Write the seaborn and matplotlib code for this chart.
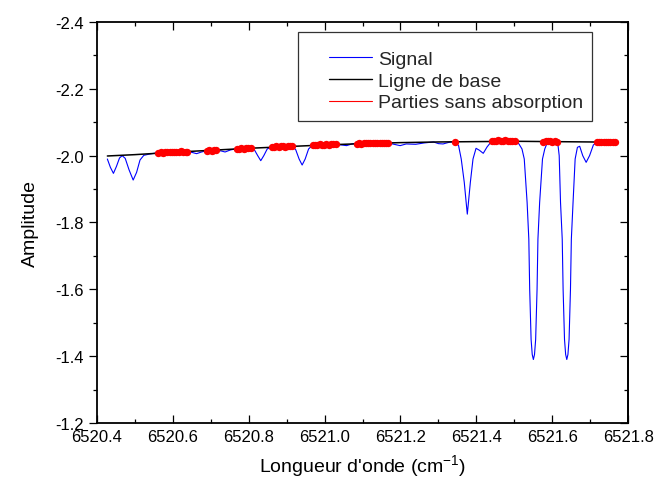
import matplotlib
matplotlib.use("Agg")
import matplotlib.pyplot as plt
import seaborn as sns
from matplotlib.ticker import MultipleLocator, FormatStrFormatter
from matplotlib.lines import Line2D
from matplotlib.patches import Rectangle

# ---------------- data ----------------
signal_x = [6520.428, 6520.436, 6520.444, 6520.452, 6520.460, 6520.467, 6520.475, 6520.485,
            6520.496, 6520.505, 6520.514, 6520.524, 6520.540, 6520.562, 6520.600, 6520.637,
            6520.650, 6520.663, 6520.676, 6520.691, 6520.714, 6520.728, 6520.738, 6520.752,
            6520.769, 6520.806, 6520.816, 6520.824, 6520.832, 6520.840, 6520.849, 6520.861,
            6520.914, 6520.924, 6520.933, 6520.941, 6520.949, 6520.958, 6520.969, 6521.030,
            6521.045, 6521.058, 6521.072, 6521.085, 6521.167, 6521.183, 6521.199, 6521.215,
            6521.240, 6521.262, 6521.287, 6521.300, 6521.312, 6521.328, 6521.344, 6521.353,
            6521.360, 6521.368, 6521.373, 6521.376, 6521.379, 6521.384, 6521.391, 6521.399,
            6521.408, 6521.418, 6521.428, 6521.440, 6521.502, 6521.512, 6521.520, 6521.526,
            6521.5335, 6521.538, 6521.5403, 6521.544, 6521.547, 6521.550, 6521.553, 6521.556,
            6521.5597, 6521.562, 6521.5665, 6521.574, 6521.580, 6521.587, 6521.611, 6521.615,
            6521.618, 6521.6215, 6521.626, 6521.6283, 6521.632, 6521.635, 6521.638, 6521.641,
            6521.644, 6521.6477, 6521.650, 6521.6545, 6521.660, 6521.666, 6521.672, 6521.680,
            6521.689, 6521.698, 6521.708, 6521.717, 6521.765]
signal_y = [-1.990, -1.965, -1.947, -1.968, -1.993, -2.000, -1.992, -1.958,
            -1.927, -1.950, -1.987, -2.001, -2.005, -2.009, -2.011, -2.012,
            -2.010, -2.006, -2.011, -2.015, -2.016, -2.014, -2.011, -2.017,
            -2.021, -2.022, -2.016, -2.000, -1.985, -2.000, -2.020, -2.027,
            -2.029, -2.018, -1.990, -1.972, -1.990, -2.020, -2.032, -2.034,
            -2.032, -2.030, -2.035, -2.037, -2.038, -2.034, -2.030, -2.035,
            -2.034, -2.038, -2.041, -2.036, -2.035, -2.040, -2.042, -2.030,
            -1.990, -1.920, -1.860, -1.825, -1.860, -1.920, -1.990, -2.022,
            -2.016, -2.007, -2.026, -2.043, -2.044, -2.035, -2.020, -1.990,
            -1.860, -1.750, -1.600, -1.450, -1.405, -1.390, -1.405, -1.450,
            -1.600, -1.750, -1.860, -1.990, -2.020, -2.040, -2.043, -2.030,
            -2.000, -1.860, -1.750, -1.600, -1.450, -1.405, -1.390, -1.405,
            -1.450, -1.600, -1.750, -1.860, -1.990, -2.025, -2.028, -2.000,
            -1.980, -2.000, -2.032, -2.040, -2.041]

baseline_x = [6520.428, 6520.50, 6520.60, 6520.70, 6520.80, 6520.90, 6521.00, 6521.10,
              6521.20, 6521.30, 6521.40, 6521.50, 6521.60, 6521.70, 6521.765]
baseline_y = [-1.999, -2.003, -2.010, -2.016, -2.022, -2.027, -2.032, -2.036,
              -2.039, -2.041, -2.042, -2.043, -2.042, -2.041, -2.040]

red_x = [6520.562, 6520.568, 6520.574, 6520.580, 6520.586, 6520.592, 6520.598, 6520.604,
         6520.610, 6520.616, 6520.622, 6520.628, 6520.634, 6520.637,
         6520.691, 6520.697, 6520.703, 6520.709, 6520.714,
         6520.769, 6520.775, 6520.781, 6520.787, 6520.793, 6520.799, 6520.806,
         6520.861, 6520.867, 6520.873, 6520.879, 6520.885, 6520.891, 6520.897, 6520.903,
         6520.909, 6520.914,
         6520.969, 6520.975, 6520.981, 6520.987, 6520.993, 6520.999, 6521.005, 6521.011,
         6521.017, 6521.023, 6521.030,
         6521.085, 6521.091, 6521.097, 6521.103, 6521.109, 6521.115, 6521.121, 6521.127,
         6521.133, 6521.139, 6521.145, 6521.151, 6521.157, 6521.163, 6521.167,
         6521.344,
         6521.440, 6521.446, 6521.452, 6521.458, 6521.464, 6521.470, 6521.476, 6521.482,
         6521.488, 6521.494, 6521.502,
         6521.576, 6521.582, 6521.588, 6521.594, 6521.600, 6521.606, 6521.611,
         6521.717, 6521.723, 6521.729, 6521.735, 6521.741, 6521.747, 6521.753, 6521.759,
         6521.765]
red_y = [-2.008, -2.010, -2.009, -2.011, -2.010, -2.012, -2.011, -2.010,
         -2.012, -2.011, -2.013, -2.012, -2.011, -2.012,
         -2.015, -2.016, -2.015, -2.017, -2.016,
         -2.020, -2.021, -2.022, -2.021, -2.023, -2.022, -2.023,
         -2.026, -2.027, -2.028, -2.027, -2.029, -2.028, -2.027, -2.029,
         -2.028, -2.029,
         -2.032, -2.033, -2.032, -2.034, -2.033, -2.032, -2.034, -2.033,
         -2.035, -2.034, -2.034,
         -2.036, -2.037, -2.036, -2.038, -2.037, -2.038, -2.037, -2.039,
         -2.038, -2.037, -2.039, -2.038, -2.039, -2.038, -2.038,
         -2.042,
         -2.044, -2.045, -2.044, -2.046, -2.045, -2.044, -2.046, -2.045,
         -2.044, -2.045, -2.044,
         -2.042, -2.043, -2.044, -2.043, -2.042, -2.043, -2.042,
         -2.040, -2.041, -2.040, -2.042, -2.041, -2.040, -2.041, -2.040,
         -2.041]

legend_labels = ["Signal", "Ligne de base", "Parties sans absorption"]
x_ticks_lim = (6520.4, 6521.8)
y_ticks_lim = (-1.2, -2.4)

# ---------------- plot ----------------
sns.set_theme(style="white")
plt.rcParams["font.family"] = ["Liberation Sans", "DejaVu Sans"]
plt.rcParams["mathtext.default"] = "regular"
plt.rcParams["axes.unicode_minus"] = False

fig = plt.figure(figsize=(6.54, 4.85), dpi=100)
ax = fig.add_axes([0.1479, 0.1258, 0.8128, 0.8268])

sns.lineplot(x=signal_x, y=signal_y, sort=False, estimator=None, color="#0000FF",
             lw=0.8, ax=ax)
sns.lineplot(x=baseline_x, y=baseline_y, sort=False, estimator=None, color="black",
             lw=1.1, ax=ax)
sns.scatterplot(x=red_x, y=red_y, color="#FF0000", s=28, linewidth=0, ax=ax, zorder=3)

ax.set_xlim(*x_ticks_lim)
ax.set_ylim(*y_ticks_lim)
ax.xaxis.set_major_locator(MultipleLocator(0.2))
ax.xaxis.set_minor_locator(MultipleLocator(0.1))
ax.xaxis.set_major_formatter(FormatStrFormatter("%.1f"))
ax.yaxis.set_major_locator(MultipleLocator(0.2))
ax.yaxis.set_minor_locator(MultipleLocator(0.1))
ax.yaxis.set_major_formatter(FormatStrFormatter("%.1f"))

for s in ax.spines.values():
    s.set_visible(True)
    s.set_color("black")
    s.set_linewidth(1.3)

ax.tick_params(axis="x", which="both", direction="in", top=True, bottom=True,
               colors="black", labelsize=12, pad=4.5)
ax.tick_params(axis="x", which="major", length=5.5, width=0.9)
ax.tick_params(axis="x", which="minor", length=3, width=0.9)
ax.tick_params(axis="y", which="both", direction="out", left=True, right=False,
               colors="black", labelsize=12, pad=3.5)
ax.tick_params(axis="y", which="major", length=5.5, width=0.9)
ax.tick_params(axis="y", which="minor", length=3, width=0.9)

sec = ax.secondary_yaxis("right")
sec.yaxis.set_major_locator(MultipleLocator(0.2))
sec.yaxis.set_minor_locator(MultipleLocator(0.1))
sec.tick_params(which="both", direction="in", labelright=False, colors="black")
sec.tick_params(which="major", length=5.5, width=0.9)
sec.tick_params(which="minor", length=3, width=0.9)
sec.spines["right"].set_color("black")
sec.spines["right"].set_linewidth(1.3)

ax.set_xlabel("Longueur d'onde (cm$^{-1}$)", fontsize=14, labelpad=6, color="black")
ax.set_ylabel("Amplitude", fontsize=14, labelpad=12, color="black")

handles = [Line2D([], [], color="#0000FF", lw=0.8),
           Line2D([], [], color="black", lw=1.0),
           Line2D([], [], color="#FF0000", lw=0.8)]
ax.legend(handles, legend_labels, loc="upper left", bbox_to_anchor=(0.437, 0.93),
          frameon=False, fontsize=14, borderpad=0, borderaxespad=0,
          handlelength=2.2, handletextpad=0.3, labelspacing=0.22)
ax.add_patch(Rectangle((0.3787, 0.753), 0.931 - 0.3787, 0.975 - 0.753,
                       transform=ax.transAxes, fill=False, edgecolor="#333333",
                       lw=0.9, zorder=5))

fig.savefig("out.png", dpi=100)
